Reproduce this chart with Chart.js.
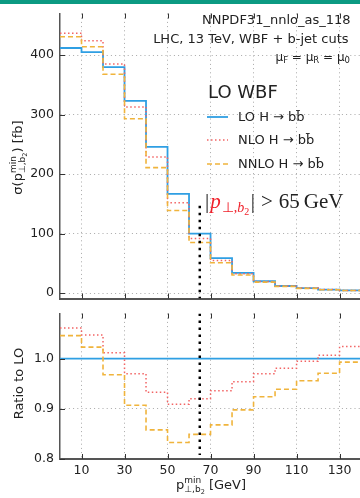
<!DOCTYPE html>
<html>
<head>
<meta charset="utf-8">
<script src="https://cdn.jsdelivr.net/npm/chart.js@4.4.1/dist/chart.umd.min.js"></script>
<style>
  body { margin: 0; background: #fff; width: 360px; height: 498px; overflow: hidden; position: relative; }
  #bar { position: absolute; left: 0; top: 0; width: 360px; height: 4px; background: #0c9a82; z-index: 3; }
  #topChart { position: absolute; left: 0; top: 0; }
  #ratioChart { position: absolute; left: 0; top: 300px; }
</style>
</head>
<body>
<div id="bar"></div>
<canvas id="topChart" width="360" height="312"></canvas>
<canvas id="ratioChart" width="360" height="198"></canvas>
<script>
// bins of p_T,b2 min cut [GeV]
const binEdges = [0, 10, 20, 30, 40, 50, 60, 70, 80, 90, 100, 110, 120, 130, 140];
// cross sections [fb]
const loXsec   = [412, 405, 380, 323, 246, 167, 100, 59, 34, 20, 12, 8.5, 6, 4.5];
const nloXsec  = [437, 424, 385, 313, 229, 152, 92, 55, 32.4, 19.4, 11.8, 8.5, 6, 4.6];
const nnloXsec = [431, 414, 368, 293, 211, 139, 85, 51, 30.5, 18.5, 11.3, 8.1, 5.8, 4.5];
// ratios to LO
const loRatio   = [1, 1, 1, 1, 1, 1, 1, 1, 1, 1, 1, 1, 1, 1];
const nloRatio  = [1.061, 1.047, 1.012, 0.970, 0.933, 0.909, 0.920, 0.936, 0.954, 0.970, 0.981, 0.995, 1.007, 1.024];
const nnloRatio = [1.046, 1.023, 0.968, 0.907, 0.858, 0.833, 0.849, 0.868, 0.898, 0.924, 0.939, 0.956, 0.971, 0.993];

const xTicks = [10, 30, 50, 70, 90, 110, 130];
const xsecTicks = [0, 100, 200, 300, 400];
const ratioTicks = [0.8, 0.9, 1.0];
const cutX = 65;
const cutTopXsec = 147;

const BLUE = '#2f9fe3', RED = '#f26464', ORANGE = '#f0b43c';
const GRID = '#a8a8a8', AXIS = '#555', TXT = '#222';
const FONT = "'DejaVu Sans', sans-serif";
const SERIF = "'Liberation Serif', serif";

function steps(vals) {
  const pts = vals.map((v, i) => ({ x: binEdges[i], y: v }));
  pts.push({ x: binEdges[vals.length], y: vals[vals.length - 1] });
  return pts;
}

function series(vals, color, dash, width, order) {
  return { data: steps(vals), borderColor: color, borderWidth: width, borderDash: dash,
           stepped: 'before', pointRadius: 0, fill: false, order: order };
}

function cutLine(yFrom, yTo) {
  return { data: [{ x: cutX, y: yFrom }, { x: cutX, y: yTo }], borderColor: '#000', borderWidth: 2.5,
           borderDash: [2.5, 4.5], pointRadius: 0, fill: false, order: -1 };
}

// text with sub/superscripts
function rich(ctx, parts, x, y, align) {
  const measure = (draw, start) => {
    let cx = start, mark = start, maxX = start;
    parts.forEach(p => {
      ctx.font = (p.st || '') + ' ' + p.s + 'px ' + (p.f || FONT);
      if (p.mark) mark = cx;
      if (p.back) cx = mark;
      if (p.after) cx = maxX;
      cx += (p.pre || 0);
      if (draw) { ctx.fillStyle = p.c || TXT; ctx.fillText(p.t, cx, y + (p.dy || 0)); }
      cx += ctx.measureText(p.t).width + (p.gap || 0);
      maxX = Math.max(maxX, cx);
    });
    return maxX - start;
  };
  const w = measure(false, 0);
  const start = align === 'center' ? x - w / 2 : align === 'right' ? x - w : x;
  measure(true, start);
}

function inwardTicks(chart, ySc, yTicks, topTicks) {
  const { ctx, chartArea: a, scales } = chart;
  ctx.save();
  ctx.strokeStyle = '#333';
  ctx.lineWidth = 1;
  ctx.beginPath();
  xTicks.forEach(v => {
    const px = Math.round(scales.x.getPixelForValue(v)) + 0.5;
    ctx.moveTo(px, a.bottom); ctx.lineTo(px, a.bottom - 5);
    if (topTicks) { ctx.moveTo(px, a.top); ctx.lineTo(px, a.top + 5); }
  });
  yTicks.forEach(v => {
    const py = Math.round(scales[ySc].getPixelForValue(v)) + 0.5;
    ctx.moveTo(a.left, py); ctx.lineTo(a.left + 5, py);
  });
  ctx.stroke();
  ctx.restore();
}

function legendLine(ctx, x, y, color, dash, width) {
  ctx.save();
  ctx.strokeStyle = color; ctx.lineWidth = width; ctx.setLineDash(dash);
  ctx.beginPath(); ctx.moveTo(x, y); ctx.lineTo(x + 21, y); ctx.stroke();
  ctx.restore();
}

const topDecor = {
  id: 'topDecor',
  afterDraw(chart) {
    const ctx = chart.ctx;
    inwardTicks(chart, 'y', xsecTicks, true);
    ctx.save();
    ctx.textBaseline = 'middle';
    ctx.fillStyle = TXT;
    ctx.textAlign = 'right';
    ctx.font = '13px ' + FONT;
    ctx.fillText('NNPDF31_nnlo_as_118', 350.5, 21);
    ctx.fillText('LHC, 13 TeV, WBF + b-jet cuts', 348.5, 39.5);
    ctx.textAlign = 'left';
    ctx.textBaseline = 'alphabetic';
    rich(ctx, [
      { t: 'μ', s: 12 }, { t: 'F', s: 8.5, dy: 2 }, { t: ' = μ', s: 12 }, { t: 'R', s: 8.5, dy: 2 },
      { t: ' = μ', s: 12 }, { t: '0', s: 8.5, dy: 2 }
    ], 350, 61, 'right');
    ctx.textBaseline = 'middle';
    ctx.font = '18px ' + FONT;
    ctx.fillText('LO WBF', 208, 93);
    ctx.font = '13px ' + FONT;
    const labels = ['LO H \u2192 bb\u0304', 'NLO H \u2192 bb\u0304', 'NNLO H \u2192 bb\u0304'];
    const ys = [117, 140, 164];
    legendLine(ctx, 207, ys[0], BLUE, [], 1.8);
    legendLine(ctx, 207, ys[1], RED, [1.5, 2.5], 1.5);
    legendLine(ctx, 207, ys[2], ORANGE, [5, 3], 1.6);
    labels.forEach((l, i) => { ctx.fillStyle = TXT; ctx.fillText(l, 238, ys[i] + 0.5); });
    // cut annotation
    ctx.textBaseline = 'alphabetic';
    const red = '#f0202a';
    rich(ctx, [
      { t: '|', s: 21, f: SERIF, gap: 1 },
      { t: 'p', s: 21, f: SERIF, st: 'italic', c: red, gap: 1 },
      { t: '⊥,', s: 14, f: SERIF, c: red, dy: 4 },
      { t: 'b', s: 14, f: SERIF, st: 'italic', c: red, dy: 4 },
      { t: '2', s: 10, f: SERIF, c: red, dy: 7, gap: 1.5 },
      { t: '|', s: 21, f: SERIF, gap: 6 },
      { t: '>', s: 21, f: SERIF, gap: 6 },
      { t: '65', s: 21, f: SERIF, gap: 4 },
      { t: 'GeV', s: 21, f: SERIF }
    ], 205, 207.5, 'left');
    // y label
    ctx.translate(22, 157.5);
    ctx.rotate(-Math.PI / 2);
    rich(ctx, [
      { t: 'σ(p', s: 13 },
      { t: 'min', s: 9, dy: -6, mark: true },
      { t: '⊥,b', s: 9, dy: 3, back: true },
      { t: '2', s: 6.5, dy: 5 },
      { t: ') [fb]', s: 13, after: true }
    ], 0, 0, 'center');
    ctx.restore();
  }
};

const ratioDecor = {
  id: 'ratioDecor',
  afterDraw(chart) {
    const ctx = chart.ctx;
    inwardTicks(chart, 'y', ratioTicks, true);
    ctx.save();
    ctx.textBaseline = 'alphabetic';
    rich(ctx, [
      { t: 'p', s: 13 },
      { t: 'min', s: 9, dy: -6, mark: true },
      { t: '⊥,b', s: 9, dy: 3, back: true },
      { t: '2', s: 6.5, dy: 5 },
      { t: ' [GeV]', s: 13, after: true }
    ], 211, 188.5, 'center');
    ctx.translate(22.5, 83.5);
    ctx.rotate(-Math.PI / 2);
    ctx.font = '13px ' + FONT;
    ctx.fillStyle = TXT;
    ctx.textAlign = 'center';
    ctx.fillText('Ratio to LO', 0, 0);
    ctx.restore();
  }
};

function xScale(showLabels) {
  return {
    type: 'linear', min: 0, max: 139.5,
    afterBuildTicks: s => { s.ticks = xTicks.map(v => ({ value: v })); },
    ticks: { display: showLabels, color: TXT, font: { family: FONT, size: 12.5 }, padding: 4, maxRotation: 0 },
    grid: { color: GRID, lineWidth: 1, drawTicks: false },
    border: { display: true, color: AXIS, width: 2, dash: [1, 3.2] },
    afterFit: s => { s.height = showLabels ? 39 : 0; }
  };
}

function yScale(min, max, tickVals, fmt) {
  return {
    min: min, max: max,
    afterBuildTicks: s => { s.ticks = tickVals.map(v => ({ value: v })); },
    ticks: { color: TXT, font: { family: FONT, size: 12.5 }, padding: 6, callback: fmt },
    grid: { color: GRID, lineWidth: 1, drawTicks: false },
    border: { display: true, color: AXIS, width: 1.5, dash: [1, 3.2] },
    afterFit: s => { s.width = 60; }
  };
}

const common = {
  responsive: false,
  animation: false,
  plugins: { legend: { display: false }, tooltip: { enabled: false } }
};

new Chart(document.getElementById('topChart'), {
  type: 'line',
  data: {
    datasets: [
      series(loXsec, BLUE, [], 1.8, 2),
      series(nloXsec, RED, [1.5, 2.5], 1.5, 1),
      series(nnloXsec, ORANGE, [5, 3], 1.6, 0),
      cutLine(cutTopXsec, -9)
    ]
  },
  options: Object.assign({}, common, {
    layout: { padding: { top: 7, bottom: 4, left: 0, right: 0 } },
    scales: {
      x: xScale(false),
      y: yScale(-9, 470, xsecTicks, v => String(v))
    }
  }),
  plugins: [topDecor]
});

new Chart(document.getElementById('ratioChart'), {
  type: 'line',
  data: {
    datasets: [
      series(loRatio, BLUE, [], 1.8, 2),
      series(nloRatio, RED, [1.5, 2.5], 1.5, 1),
      series(nnloRatio, ORANGE, [5, 3], 1.6, 0),
      cutLine(1.09, 0.808)
    ]
  },
  options: Object.assign({}, common, {
    layout: { padding: { top: 8, bottom: 0, left: 0, right: 0 } },
    scales: {
      x: xScale(true),
      y: yScale(0.8, 1.09, ratioTicks, v => v.toFixed(1))
    }
  }),
  plugins: [ratioDecor]
});
</script>
</body>
</html>
